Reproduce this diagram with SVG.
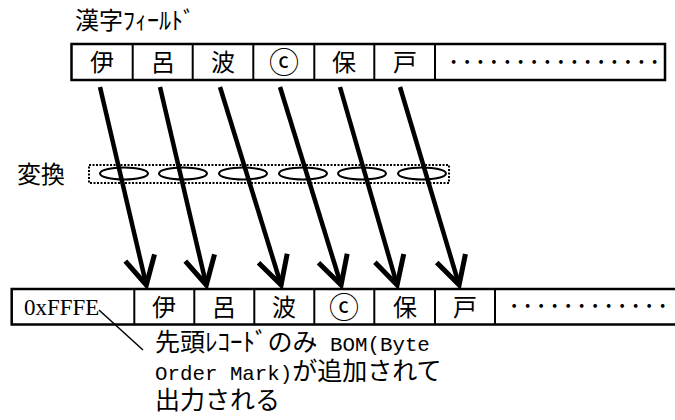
<svg xmlns="http://www.w3.org/2000/svg" width="675" height="420" viewBox="0 0 675 420">
<style>
.t{font-family:"Noto Sans CJK JP","Noto Sans",sans-serif;font-size:24px;fill:#000}
.n{font-size:25px}
.c{text-anchor:middle}
.cc{font-size:30px}
.m{font-family:"Liberation Mono",monospace;font-size:20.8px;fill:#000}
.s{font-family:"Liberation Serif",serif;font-size:23px;fill:#000}
.b{fill:none;stroke:#000;stroke-width:2.5}
.d{fill:none;stroke:#000;stroke-width:2}
.ar{fill:none;stroke:#000;stroke-width:4.5}
.el{fill:#fff;stroke:#000;stroke-width:2}
.dot{font-family:"Noto Sans CJK JP",sans-serif;font-size:20px;font-weight:bold;text-anchor:middle}
</style>
<defs>
<marker id="ah" markerUnits="userSpaceOnUse" orient="auto" refX="0" refY="0" markerWidth="40" markerHeight="40" viewBox="-35 -20 40 40" overflow="visible">
<path d="M-28,-15 L0,0 L-28,15" fill="none" stroke="#000" stroke-width="5"/>
</marker>
</defs>
<g id="label-kanji"><text class="t" x="75" y="29">漢字ﾌｨｰﾙﾄﾞ</text></g>
<g id="top-row">
<rect class="b" x="71.5" y="44" width="593.5" height="36"/>
<line class="d" x1="132.7" y1="44" x2="132.7" y2="80"/>
<line class="d" x1="192.7" y1="44" x2="192.7" y2="80"/>
<line class="d" x1="253.3" y1="44" x2="253.3" y2="80"/>
<line class="d" x1="314.3" y1="44" x2="314.3" y2="80"/>
<line class="d" x1="374.3" y1="44" x2="374.3" y2="80"/>
<line class="d" x1="435" y1="44" x2="435" y2="80"/>
<text class="t c" x="102" y="71">伊</text>
<text class="t c" x="163" y="71">呂</text>
<text class="t c" x="223" y="71">波</text>
<text class="t c cc" x="284" y="73">ⓒ</text>
<text class="t c" x="344" y="71">保</text>
<text class="t c" x="405" y="71">戸</text>
<text class="dot" y="69" x="453.7 467.1 480.5 493.9 507.3 520.7 534.1 547.5 560.9 574.3 587.7 601.1 614.5 627.9 641.3 654.7">················</text>
</g>
<g id="label-henkan"><text class="t" x="17" y="183">変換</text></g>
<g id="converter">
<rect x="89" y="165" width="360" height="18" fill="none" stroke="#000" stroke-width="2" stroke-dasharray="2 1.5"/>
<ellipse class="el" cx="124" cy="173.5" rx="24" ry="6"/>
<ellipse class="el" cx="183" cy="173.5" rx="24" ry="6"/>
<ellipse class="el" cx="243" cy="173.5" rx="24" ry="6"/>
<ellipse class="el" cx="303" cy="173.5" rx="24" ry="6"/>
<ellipse class="el" cx="362" cy="173.5" rx="24" ry="6"/>
<ellipse class="el" cx="422" cy="173.5" rx="24" ry="6"/>
</g>
<g id="bottom-row">
<path class="b" d="M680,289 H11.7 V324.5 H680"/>
<line class="d" x1="134.3" y1="289" x2="134.3" y2="324.5"/>
<line class="d" x1="194.3" y1="289" x2="194.3" y2="324.5"/>
<line class="d" x1="254.3" y1="289" x2="254.3" y2="324.5"/>
<line class="d" x1="314.3" y1="289" x2="314.3" y2="324.5"/>
<line class="d" x1="374.3" y1="289" x2="374.3" y2="324.5"/>
<line class="d" x1="435" y1="289" x2="435" y2="324.5"/>
<line class="d" x1="495" y1="289" x2="495" y2="324.5"/>
<text class="s" x="24" y="315">0xFFFE</text>
<text class="t c" x="164" y="316">伊</text>
<text class="t c" x="224" y="316">呂</text>
<text class="t c" x="284" y="316">波</text>
<text class="t c cc" x="344" y="318">ⓒ</text>
<text class="t c" x="405" y="316">保</text>
<text class="t c" x="465" y="316">戸</text>
<text class="dot" y="313" x="514.2 527.7 541.2 554.7 568.2 581.7 595.2 608.7 622.2 635.7 649.2 662.7">············</text>
</g>
<g id="connectors">
<line class="ar" x1="100" y1="87" x2="146.3" y2="285" marker-end="url(#ah)"/>
<line class="ar" x1="160" y1="87" x2="206.3" y2="285" marker-end="url(#ah)"/>
<line class="ar" x1="220" y1="87" x2="281.1" y2="285" marker-end="url(#ah)"/>
<line class="ar" x1="280" y1="87" x2="341.1" y2="285" marker-end="url(#ah)"/>
<line class="ar" x1="340" y1="87" x2="397.1" y2="285" marker-end="url(#ah)"/>
<line class="ar" x1="400" y1="87" x2="459.1" y2="285" marker-end="url(#ah)"/>
<line x1="99" y1="310" x2="143" y2="350" stroke="#000" stroke-width="1.5"/>
</g>
<g id="note">
<text class="t n" x="155" y="351">先頭ﾚｺｰﾄﾞのみ<tspan class="m" x="330">BOM(Byte</tspan></text>
<text class="t n" x="155" y="380"><tspan class="m">Order Mark)</tspan>が追加されて</text>
<text class="t n" x="155" y="409">出力される</text>
</g>
</svg>
